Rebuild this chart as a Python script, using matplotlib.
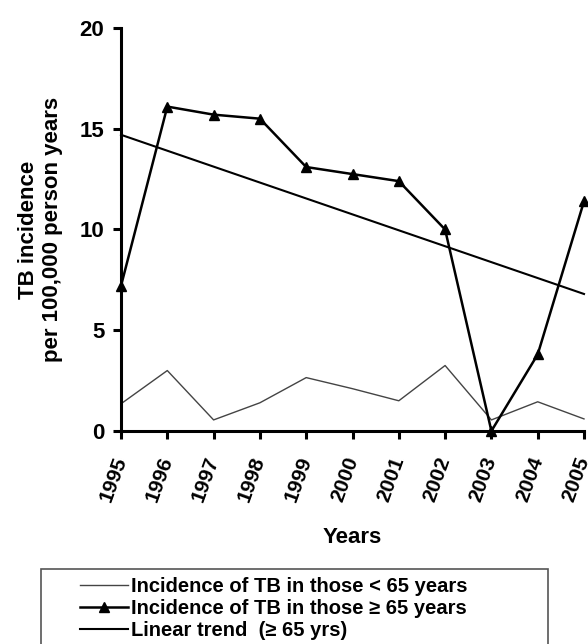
import numpy as np
import matplotlib
import matplotlib.pyplot as plt
from matplotlib.patches import Rectangle

matplotlib.use('Agg')
plt.rcParams['font.family'] = ['Liberation Sans', 'DejaVu Sans']
plt.rcParams['font.weight'] = 'bold'

years = [1995, 1996, 1997, 1998, 1999, 2000, 2001, 2002, 2003, 2004, 2005]
under65 = [1.35, 3.0, 0.55, 1.4, 2.65, 2.1, 1.5, 3.25, 0.55, 1.45, 0.6]
over65 = [7.2, 16.1, 15.7, 15.5, 13.1, 12.75, 12.4, 10.0, 0.0, 3.8, 11.4]
trend_ends = [14.7, 6.8]
labels = ["Incidence of TB in those < 65 years",
          "Incidence of TB in those \u2265 65 years",
          "Linear trend  (\u2265 65 yrs)"]

fig = plt.figure(figsize=(5.88, 6.44), dpi=100)
ax = fig.add_axes([121 / 588, 1 - 431 / 644, 463 / 588, 403 / 644])

ax.plot(years, under65, color='#444444', lw=1.0, label=labels[0])
ax.plot(years, over65, color='black', lw=1.8, marker='^', markersize=7,
        label=labels[1])
ax.plot([years[0], years[-1]], trend_ends, color='black', lw=1.5,
        label=labels[2])

ax.set_xlim(1995, 2005)
ax.set_ylim(0, 20)
ax.set_yticks([0, 5, 10, 15, 20])
ax.set_xticks(years)
ax.set_xticklabels([str(y) for y in years], rotation=70, ha='right',
                   va='center', rotation_mode='anchor', fontsize=15)
ax.tick_params(axis='y', labelsize=16, pad=6)
ax.tick_params(axis='x', pad=13)
ax.tick_params(direction='out', length=6, width=2.2)
for s in ['top', 'right']:
    ax.spines[s].set_visible(False)
for s in ['left', 'bottom']:
    ax.spines[s].set_linewidth(2.2)
for ln in ax.lines:
    ln.set_clip_on(False)

ax.set_ylabel("TB incidence\nper 100,000 person years", fontsize=16,
              fontweight='bold', labelpad=12)
ax.set_xlabel("Years", fontsize=16, fontweight='bold', labelpad=16)

# legend box runs off the bottom edge of the picture
fig.patches.append(Rectangle((41 / 588, -0.05), 507 / 588, 0.05 + 75 / 644,
                             transform=fig.transFigure, fill=False,
                             edgecolor='#555555', lw=1.2))
fig.legend(loc='upper left', bbox_to_anchor=(80 / 588, 1 - 577 / 644),
           fontsize=14.5, frameon=False, handlelength=2.4, handletextpad=0.15,
           borderpad=0, labelspacing=0.15, borderaxespad=0)

fig.savefig('out.png', dpi=100)
